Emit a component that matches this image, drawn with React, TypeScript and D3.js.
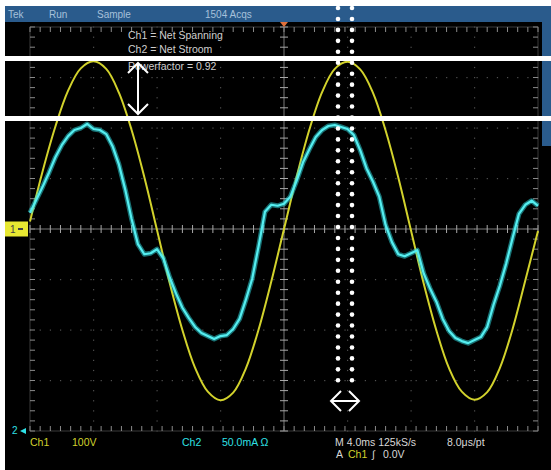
import * as d3 from "d3";
import React, { useEffect, useRef } from "react";

// status bar / annotation texts
const headerLabels = ["Tek", "Run", "Sample", "1504 Acqs"];
const headerX = [8, 49, 97, 205];
const overlayLines = ["Ch1 = Net Spanning", "Ch2 = Net Stroom", "Powerfactor = 0.92"];

// Ch1: voltage (V), sampled every 1 ms from -20 ms to +20 ms
const ch1Time = d3.range(-20, 20.5, 1);
const ch1Volts = [
  15, 115, 203, 274, 318, 332, 317, 270, 196, 103, -2, -107, -200, -275, -322,
  -339, -324, -276, -199, -104, 0, 104, 197, 271, 317, 331, 316, 270, 195, 102,
  -3, -108, -201, -276, -322, -338, -323, -275, -198, -102, -4,
];

// Ch2: current (mA, ground at bottom of screen), sampled every 0.5 ms
const ch2Time = d3.range(-20, 20.25, 0.5);
const ch2Milliamps = [
  216, 229, 242, 256, 271, 283, 292, 298, 300, 304, 299, 298, 294, 282, 264,
  239, 210, 185, 175, 176, 180, 171, 152, 136, 122, 112, 103, 97, 94, 91, 94,
  95, 101, 111, 130, 151, 183, 217, 224, 223, 225, 232, 248, 266, 279, 291,
  298, 302, 303, 301, 299, 293, 278, 260, 247, 232, 204, 187, 175, 173, 176,
  179, 156, 141, 128, 111, 99, 92, 89, 87, 90, 93, 103, 125, 144, 166, 191,
  215, 224, 228, 223,
];

const YELLOW = "#d2d22c";
const CYAN = "#2fe0e6";
const FONT = "'Liberation Sans', Arial, sans-serif";

const App: React.FC = () => {
  const svgRef = useRef<SVGSVGElement>(null);

  useEffect(() => {
    const svg = d3.select(svgRef.current);
    svg.selectAll("*").remove();

    const x = d3.scaleLinear().domain([-20, 20]).range([30, 538]);
    const yV = d3.scaleLinear().domain([-400, 400]).range([431, 27]);
    const yI = d3.scaleLinear().domain([0, 400]).range([431, 27]);

    svg.append("rect").attr("width", 551).attr("height", 470).attr("fill", "#fff");
    svg.append("rect").attr("x", 5).attr("y", 6).attr("width", 546).attr("height", 464).attr("fill", "#000");

    // header bar
    svg.append("rect").attr("x", 5).attr("y", 6).attr("width", 546).attr("height", 16).attr("fill", "#2a5b8c");
    svg.append("rect").attr("x", 542).attr("y", 6).attr("width", 9).attr("height", 140).attr("fill", "#2a5b8c");
    svg
      .append("g")
      .selectAll("text")
      .data(headerLabels)
      .join("text")
      .attr("x", (_, i) => headerX[i])
      .attr("y", 18)
      .attr("font-family", FONT)
      .attr("font-size", 10)
      .attr("fill", "#a6c0da")
      .text((d) => d);

    // graticule
    const grid = svg.append("g");
    const majorX = x.ticks(10);
    const majorY = yV.ticks(8);
    const minorX = d3.range(-20, 20.01, 0.8);
    const minorY = d3.range(-400, 400.1, 20);

    majorX
      .filter((d) => d !== 0 && Math.abs(d) !== 20)
      .forEach((mx) => {
        grid
          .append("g")
          .selectAll("rect")
          .data(minorY)
          .join("rect")
          .attr("x", x(mx) - 0.5)
          .attr("y", (d) => yV(d) - 0.5)
          .attr("width", 1.2)
          .attr("height", 1.2)
          .attr("fill", "#505050");
      });
    majorY
      .filter((d) => d !== 0 && Math.abs(d) !== 400)
      .forEach((my) => {
        grid
          .append("g")
          .selectAll("rect")
          .data(minorX)
          .join("rect")
          .attr("x", (d) => x(d) - 0.5)
          .attr("y", yV(my) - 0.5)
          .attr("width", 1.2)
          .attr("height", 1.2)
          .attr("fill", "#505050");
      });

    // border lines
    grid
      .append("rect")
      .attr("x", x(-20))
      .attr("y", yV(400))
      .attr("width", x(20) - x(-20))
      .attr("height", yV(-400) - yV(400))
      .attr("fill", "none")
      .attr("stroke", "#3a3a3a");

    // center cross
    grid.append("line").attr("x1", x(-20)).attr("x2", x(20)).attr("y1", yV(0)).attr("y2", yV(0)).attr("stroke", "#7a7a7a");
    grid.append("line").attr("x1", x(0)).attr("x2", x(0)).attr("y1", yV(400)).attr("y2", yV(-400)).attr("stroke", "#7a7a7a");

    const tickColor = "#a8a8a8";
    grid
      .append("g")
      .selectAll("line")
      .data(minorX)
      .join("line")
      .attr("x1", (d) => x(d))
      .attr("x2", (d) => x(d))
      .attr("y1", yV(0) - 4)
      .attr("y2", yV(0) + 4)
      .attr("stroke", tickColor);
    grid
      .append("g")
      .selectAll("line")
      .data(minorY)
      .join("line")
      .attr("x1", x(0) - 4)
      .attr("x2", x(0) + 4)
      .attr("y1", (d) => yV(d))
      .attr("y2", (d) => yV(d))
      .attr("stroke", tickColor);

    // edge ticks
    const edge = grid.append("g").attr("stroke", "#8a8a8a");
    edge.selectAll(".tl").data(minorY).join("line").attr("class", "tl")
      .attr("x1", x(-20)).attr("x2", x(-20) + 5).attr("y1", (d) => yV(d)).attr("y2", (d) => yV(d));
    edge.selectAll(".tr").data(minorY).join("line").attr("class", "tr")
      .attr("x1", x(20) - 5).attr("x2", x(20)).attr("y1", (d) => yV(d)).attr("y2", (d) => yV(d));
    edge.selectAll(".tt").data(minorX).join("line").attr("class", "tt")
      .attr("x1", (d) => x(d)).attr("x2", (d) => x(d)).attr("y1", yV(400)).attr("y2", yV(400) + 5);
    edge.selectAll(".tb").data(minorX).join("line").attr("class", "tb")
      .attr("x1", (d) => x(d)).attr("x2", (d) => x(d)).attr("y1", yV(-400) - 5).attr("y2", yV(-400));

    // trigger position marker
    svg
      .append("path")
      .attr("d", `M${x(0) - 4},${yV(400) - 5}L${x(0) + 4},${yV(400) - 5}L${x(0)},${yV(400)}Z`)
      .attr("fill", "#e0703a");

    // traces
    const lineV = d3
      .line<number>()
      .x((_, i) => x(ch1Time[i]))
      .y((d) => yV(d))
      .curve(d3.curveCatmullRom);
    svg
      .append("path")
      .datum(ch1Volts)
      .attr("d", lineV)
      .attr("fill", "none")
      .attr("stroke", YELLOW)
      .attr("stroke-width", 2);

    const lineI = d3
      .line<number>()
      .x((_, i) => x(ch2Time[i]))
      .y((d) => yI(d));
    svg
      .append("path")
      .datum(ch2Milliamps)
      .attr("d", lineI)
      .attr("fill", "none")
      .attr("stroke", CYAN)
      .attr("stroke-opacity", 0.5)
      .attr("stroke-width", 5)
      .attr("stroke-linejoin", "round");
    svg
      .append("path")
      .datum(ch2Milliamps)
      .attr("d", lineI)
      .attr("fill", "none")
      .attr("stroke", "#55eef0")
      .attr("stroke-width", 2.2)
      .attr("stroke-linejoin", "round");

    // channel markers
    svg.append("rect").attr("x", 5).attr("y", yV(0) - 7.5).attr("width", 23).attr("height", 15).attr("fill", "#e8e832");
    svg.append("text").attr("x", 10).attr("y", yV(0) + 4).attr("font-family", FONT).attr("font-size", 10)
      .attr("fill", "#444").text("1");
    svg.append("rect").attr("x", 18).attr("y", yV(0) - 1).attr("width", 5).attr("height", 2).attr("fill", "#444");
    svg.append("text").attr("x", 12).attr("y", yI(0) + 3).attr("font-family", FONT).attr("font-size", 10)
      .attr("fill", CYAN).text("2");
    svg.append("path").attr("d", `M20,${yI(0)}L26,${yI(0) - 3}L26,${yI(0) + 3}Z`).attr("fill", CYAN);

    // bottom readout
    const readout = svg.append("g").attr("font-family", FONT).attr("font-size", 10.5);
    readout.append("text").attr("x", 30).attr("y", 446).attr("fill", YELLOW).text("Ch1");
    readout.append("text").attr("x", 72).attr("y", 446).attr("fill", YELLOW).text("100V");
    readout.append("text").attr("x", 182).attr("y", 446).attr("fill", CYAN).text("Ch2");
    readout.append("text").attr("x", 222).attr("y", 446).attr("fill", CYAN).text("50.0mA Ω");
    readout.append("text").attr("x", 335).attr("y", 446).attr("fill", "#d8d8d8").text("M 4.0ms 125kS/s");
    readout.append("text").attr("x", 447).attr("y", 446).attr("fill", "#d8d8d8").text("8.0μs/pt");
    readout.append("text").attr("x", 336).attr("y", 458).attr("fill", "#d8d8d8").text("A");
    readout.append("text").attr("x", 348).attr("y", 458).attr("fill", YELLOW).text("Ch1");
    readout.append("text").attr("x", 372).attr("y", 458).attr("fill", "#d8d8d8").text("∫");
    readout.append("text").attr("x", 383).attr("y", 458).attr("fill", "#d8d8d8").text("0.0V");

    // overlay notes
    svg
      .append("g")
      .selectAll("text")
      .data(overlayLines)
      .join("text")
      .attr("x", 128)
      .attr("y", (_, i) => [39, 53, 70][i])
      .attr("font-family", FONT)
      .attr("font-size", 10.5)
      .attr("fill", "#cfcfcf")
      .text((d) => d);

    // white guide bars at peaks
    svg.append("rect").attr("x", 0).attr("y", 56).attr("width", 551).attr("height", 5).attr("fill", "#fff");
    svg.append("rect").attr("x", 0).attr("y", 116).attr("width", 551).attr("height", 5).attr("fill", "#fff");

    // vertical double arrow
    const arrows = svg.append("g").attr("stroke", "#fff").attr("stroke-width", 2).attr("fill", "none");
    arrows.append("line").attr("x1", 138).attr("x2", 138).attr("y1", 63).attr("y2", 114);
    arrows.append("path").attr("d", "M128,73L138,63L148,73");
    arrows.append("path").attr("d", "M128,104L138,114L148,104");

    // dotted phase markers
    const dotY = d3.range(0, 35).map((k) => 8 + k * 10.95);
    [338, 352].forEach((cx) => {
      svg
        .append("g")
        .selectAll("circle")
        .data(dotY)
        .join("circle")
        .attr("cx", cx)
        .attr("cy", (d) => d)
        .attr("r", 2.3)
        .attr("fill", "#fff");
    });

    // horizontal double arrow
    arrows.append("line").attr("x1", 331).attr("x2", 359).attr("y1", 401).attr("y2", 401);
    arrows.append("path").attr("d", "M341,391L331,401L341,411");
    arrows.append("path").attr("d", "M349,391L359,401L349,411");
  }, []);

  return (
    <svg
      ref={svgRef}
      width={551}
      height={470}
      style={{ position: "absolute", left: 0, top: 0, display: "block" }}
    />
  );
};

export default App;
